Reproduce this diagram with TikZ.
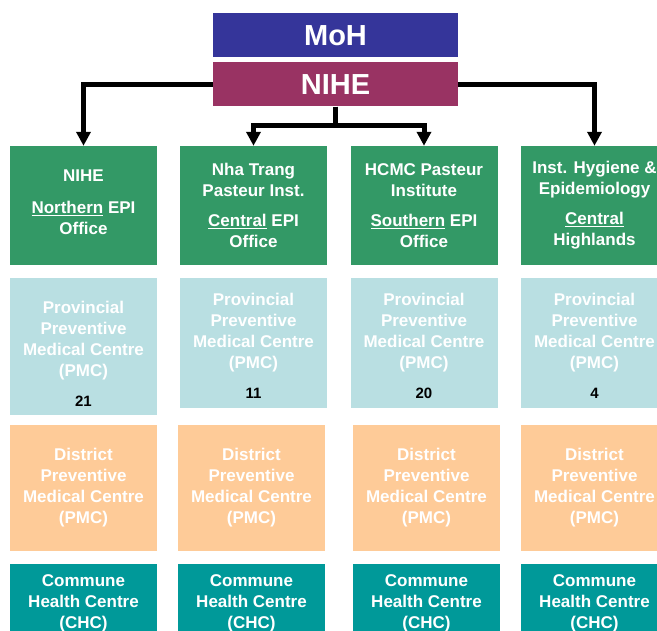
\documentclass[tikz,border=0pt]{standalone}
\usepackage{fontspec}
\setmainfont{Liberation Sans}
\usetikzlibrary{arrows.meta}

\definecolor{mohblue}{HTML}{35359A}
\definecolor{nihered}{HTML}{993363}
\definecolor{epigreen}{HTML}{339966}
\definecolor{pmcblue}{HTML}{B9DFE2}
\definecolor{dpmcorange}{HTML}{FECB98}
\definecolor{chcteal}{HTML}{009999}

\tikzset{
  box/.style={rectangle, inner sep=0pt, align=center, text=white,
    minimum width=147pt, font=\fontsize{17}{21}\selectfont\bfseries},
  topbox/.style={box, minimum width=245pt, minimum height=44pt,
    font=\fontsize{29}{34}\selectfont\bfseries},
  epibox/.style={box, fill=epigreen, minimum height=119pt},
  pmcbox/.style={box, fill=pmcblue},
  dpmcbox/.style={box, fill=dpmcorange, minimum height=126pt},
  chcbox/.style={box, fill=chcteal, minimum height=78pt},
  conn/.style={line width=5pt, -{Triangle[width=14pt,length=14pt]}},
}

% provincial text, #1 = extra room on top, #2 = number of centres
\newcommand{\pmctext}[2]{\rule{0pt}{#1}Provincial\\Preventive\\Medical Centre\\(PMC)\\[9pt]{\color{black}\fontsize{15}{18}\selectfont #2}}

\begin{document}
\begin{tikzpicture}[x=1pt,y=-1pt]
        \clip (0,0) rectangle (657,631);

        % Top nodes
        \node[topbox, fill=mohblue] (moh) at (335.5,35.5) {MoH};
        \node[topbox, fill=nihered] (nihe) at (335.5,84.5) {NIHE};

        % EPI offices
        \node[epibox] (g1) at (83.5,205.5) {NIHE\\[11pt]\underline{Northern} EPI\\Office\rule[-6pt]{0pt}{6pt}};
        \node[epibox] (g2) at (253.5,205.5) {Nha Trang\\Pasteur Inst.\\[9pt]\underline{Central} EPI\\Office};
        \node[epibox] (g3) at (424,205.5) {HCMC Pasteur\\Institute\\[9pt]\underline{Southern} EPI\\Office};
        \node[epibox] (g4) at (594.5,205.5) {Inst. Hygiene \&\\Epidemiology\\[9pt]\underline{Central}\\Highlands};

        % Connectors
        \coordinate (split) at (335.5,126);
        \draw[conn] (nihe.west) -| (g1.north);
        \draw[conn] (nihe.east) -| (g4.north);
        \draw[conn] (nihe.south) -- (split) -| (g2.north);
        \draw[conn] (nihe.south) -- (split) -| (g3.north);

        % Provincial centres
        \node[pmcbox, minimum height=137pt] (p1) at (83.5,346.5) {\pmctext{27pt}{21}};
        \node[pmcbox, minimum height=130pt] (p2) at (253.5,343) {\pmctext{19pt}{11}};
        \node[pmcbox, minimum height=130pt] (p3) at (424,343) {\pmctext{19pt}{20}};
        \node[pmcbox, minimum height=130pt] (p4) at (594.5,343) {\pmctext{19pt}{4}};

        % District centres
        \node[dpmcbox] (d1) at (83.5,488) {District\\Preventive\\Medical Centre\\(PMC)};
        \node[dpmcbox] (d2) at (251.5,488) {District\\Preventive\\Medical Centre\\(PMC)};
        \node[dpmcbox] (d3) at (426.5,488) {District\\Preventive\\Medical Centre\\(PMC)};
        \node[dpmcbox] (d4) at (594.5,488) {District\\Preventive\\Medical Centre\\(PMC)};

        % Commune centres
        \node[chcbox] (c1) at (83.5,603) {Commune\\Health Centre\\(CHC)};
        \node[chcbox] (c2) at (251.5,603) {Commune\\Health Centre\\(CHC)};
        \node[chcbox] (c3) at (426.5,603) {Commune\\Health Centre\\(CHC)};
        \node[chcbox] (c4) at (594.5,603) {Commune\\Health Centre\\(CHC)};
    \end{tikzpicture}
\end{document}
